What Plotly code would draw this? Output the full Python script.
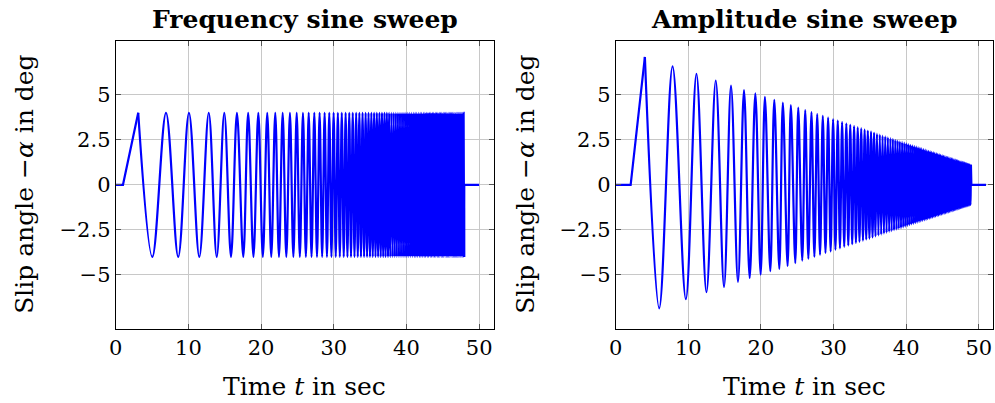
import plotly.graph_objects as go

# Frequency sine sweep: extremum times (s) (dense part estimated)
FREQ_T_EXT = [3.1, 5.04, 6.92, 8.6, 10.08, 11.5, 12.8, 13.9, 14.94, 15.86, 16.68, 17.55,
              18.22, 18.95, 19.62, 20.24, 20.85, 21.4, 21.95, 22.46, 22.97, 23.47, 23.97, 24.44,
              24.9, 25.33, 25.76, 26.16, 26.55, 26.94, 27.32, 27.69, 28.05, 28.4, 28.74, 29.06,
              29.38, 29.68, 29.98, 30.27, 30.56, 30.83, 31.10, 31.37, 31.63, 31.88, 32.13, 32.37,
              32.61, 32.85, 33.08, 33.30, 33.52, 33.74, 33.96, 34.17, 34.38, 34.58, 34.78, 34.98,
              35.17, 35.36, 35.55, 35.74, 35.92, 36.10, 36.28, 36.46, 36.63, 36.80, 36.97, 37.13,
              37.30, 37.46, 37.62, 37.78, 37.93, 38.09, 38.24, 38.39, 38.54, 38.68, 38.83, 38.97,
              39.11, 39.25, 39.39, 39.53, 39.66, 39.80, 39.93, 40.06, 40.19, 40.32, 40.45, 40.58,
              40.70, 40.82, 40.94, 41.07, 41.19, 41.30, 41.42, 41.54, 41.65, 41.77, 41.88, 41.99,
              42.10, 42.21, 42.32, 42.43, 42.54, 42.64, 42.75, 42.85, 42.96, 43.06, 43.16, 43.26,
              43.36, 43.46, 43.56, 43.66, 43.76, 43.86, 43.95, 44.05, 44.14, 44.24, 44.33, 44.42,
              44.51, 44.60, 44.69, 44.78, 44.87, 44.96, 45.05, 45.13, 45.22, 45.31, 45.39, 45.48,
              45.56, 45.64, 45.73, 45.81, 45.89, 45.97, 46.05, 46.13, 46.21, 46.29, 46.37, 46.45,
              46.53, 46.61, 46.68, 46.76, 46.84, 46.91, 46.99, 47.06, 47.14, 47.21, 47.28, 47.36,
              47.43, 47.50, 47.57, 47.65, 47.72, 47.79, 47.86, 47.93]
FREQ_AMP = 4.0
FREQ_START = 1.0     # sweep begins
FREQ_END = 47.95     # sweep stops
FREQ_TAIL = 50.0     # zero signal until here

# Amplitude sine sweep: extremum times (s) and magnitudes (deg)
AMP_T_EXT = [4.02, 5.99, 7.83, 9.66, 11.12, 12.5, 13.78, 14.92, 15.88, 16.84, 17.67, 18.45,
             19.23, 19.96, 20.55, 21.29, 21.84, 22.53, 23.02, 23.67, 24.12, 24.73, 25.14, 25.69,
             26.1, 26.53, 26.96, 27.36, 27.75, 28.14, 28.52, 28.89, 29.25, 29.6, 29.94, 30.26,
             30.58, 30.88, 31.18, 31.47, 31.76, 32.03, 32.3, 32.57, 32.83, 33.08, 33.33, 33.57,
             33.81, 34.05, 34.28, 34.5, 34.72, 34.94, 35.16, 35.37, 35.58, 35.78, 35.98, 36.18,
             36.37, 36.56, 36.75, 36.94, 37.12, 37.3, 37.48, 37.66, 37.83, 38.0, 38.17, 38.33,
             38.5, 38.66, 38.82, 38.98, 39.13, 39.29, 39.44, 39.59, 39.74, 39.88, 40.03, 40.17,
             40.31, 40.45, 40.59, 40.73, 40.86, 41.0, 41.13, 41.26, 41.39, 41.52, 41.65, 41.78,
             41.9, 42.02, 42.14, 42.27, 42.39, 42.5, 42.62, 42.74, 42.85, 42.97, 43.08, 43.19,
             43.3, 43.41, 43.52, 43.63, 43.74, 43.84, 43.95, 44.05, 44.16, 44.26, 44.36, 44.46,
             44.56, 44.66, 44.76, 44.86, 44.96, 45.06, 45.15, 45.25, 45.34, 45.44, 45.53, 45.62,
             45.71, 45.8, 45.89, 45.98, 46.07, 46.16, 46.25, 46.33, 46.42, 46.51, 46.59, 46.68,
             46.76, 46.84, 46.93, 47.01, 47.09, 47.17, 47.25, 47.33, 47.41, 47.49, 47.57, 47.65,
             47.73, 47.81, 47.88, 47.96, 48.04, 48.11, 48.19, 48.26, 48.34, 48.41, 48.48, 48.56,
             48.63, 48.7, 48.77, 48.85, 48.92]
AMP_EXT = [7.1, 6.85, 6.57, 6.35, 6.16, 5.96, 5.79, 5.67, 5.51, 5.39, 5.26, 5.17,
           5.08, 4.98, 4.89, 4.79, 4.72, 4.66, 4.57, 4.51, 4.42, 4.34, 4.29, 4.21,
           4.15, 4.10, 4.04, 3.99, 3.93, 3.88, 3.83, 3.78, 3.73, 3.69, 3.64, 3.60,
           3.56, 3.52, 3.48, 3.44, 3.40, 3.36, 3.33, 3.29, 3.26, 3.22, 3.19, 3.16,
           3.13, 3.09, 3.06, 3.03, 3.00, 2.98, 2.95, 2.92, 2.89, 2.86, 2.84, 2.81,
           2.79, 2.76, 2.73, 2.71, 2.69, 2.66, 2.64, 2.61, 2.59, 2.57, 2.55, 2.52,
           2.50, 2.48, 2.46, 2.44, 2.42, 2.40, 2.38, 2.36, 2.34, 2.32, 2.30, 2.28,
           2.26, 2.24, 2.22, 2.20, 2.19, 2.17, 2.15, 2.13, 2.12, 2.10, 2.08, 2.06,
           2.05, 2.03, 2.02, 2.00, 1.98, 1.97, 1.95, 1.94, 1.92, 1.91, 1.89, 1.88,
           1.86, 1.85, 1.83, 1.82, 1.80, 1.79, 1.77, 1.76, 1.75, 1.73, 1.72, 1.71,
           1.69, 1.68, 1.67, 1.65, 1.64, 1.63, 1.61, 1.60, 1.59, 1.58, 1.56, 1.55,
           1.54, 1.53, 1.52, 1.50, 1.49, 1.48, 1.47, 1.46, 1.45, 1.43, 1.42, 1.41,
           1.40, 1.39, 1.38, 1.37, 1.36, 1.35, 1.33, 1.32, 1.31, 1.30, 1.29, 1.28,
           1.27, 1.26, 1.25, 1.24, 1.23, 1.22, 1.21, 1.20, 1.19, 1.18, 1.17, 1.16,
           1.15, 1.14, 1.13, 1.12, 1.11]
AMP_START = 2.06
AMP_END = 48.98
AMP_TAIL = 51.0

X_TICKS = [0, 10, 20, 30, 40, 50]
Y_TICKS = [-5, -2.5, 0, 2.5, 5]
Y_TICKTEXT = ["\u22125", "\u22122.5", "0", "2.5", "5"]

BLUE = "#0000ff"
FONT = "DejaVu Serif"

# alternating signs: first extremum is a maximum
freq_y = [FREQ_AMP if i % 2 == 0 else -FREQ_AMP for i in range(len(FREQ_T_EXT))]
amp_y = [a if i % 2 == 0 else -a for i, a in enumerate(AMP_EXT)]

fig = go.Figure()

def add_sweep(t_ext, y_ext, t_start, t_end, t_tail, xa, ya):
    ln = dict(color=BLUE, width=2.2)
    # flat start + ramp into first maximum
    fig.add_trace(go.Scatter(x=[0, t_start, t_ext[0]], y=[0, 0, y_ext[0]], mode="lines",
                             line=ln, xaxis=xa, yaxis=ya, showlegend=False))
    # the sweep itself, smoothed between the extrema
    fig.add_trace(go.Scatter(x=t_ext, y=y_ext, mode="lines", line=dict(ln, shape="spline"),
                             xaxis=xa, yaxis=ya, showlegend=False))
    # stop and zero tail
    fig.add_trace(go.Scatter(x=[t_ext[-1], t_end, t_tail], y=[y_ext[-1], 0, 0], mode="lines",
                             line=ln, xaxis=xa, yaxis=ya, showlegend=False))

add_sweep(FREQ_T_EXT, freq_y, FREQ_START, FREQ_END, FREQ_TAIL, "x", "y")
add_sweep(AMP_T_EXT, amp_y, AMP_START, AMP_END, AMP_TAIL, "x2", "y2")

W, H = 995, 403
ax_common = dict(showline=True, linecolor="black", linewidth=1, mirror="ticks",
                 ticks="inside", ticklen=5, tickcolor="#555555", tickwidth=1,
                 showgrid=True, gridcolor="#c8c8c8", gridwidth=1, zeroline=False,
                 automargin=False,
                 tickfont=dict(family=FONT, size=21, color="black"))
xdom1 = [115.7 / W, 493.7 / W]
xdom2 = [615.7 / W, 993.3 / W]
ydom = [(H - 329) / H, (H - 40.7) / H]

fig.update_layout(
    width=W, height=H, margin=dict(l=0, r=0, t=0, b=0, autoexpand=False),
    paper_bgcolor="white", plot_bgcolor="white",
    xaxis=dict(ax_common, domain=xdom1, range=[0, 52], tickvals=X_TICKS, anchor="y"),
    yaxis=dict(ax_common, domain=ydom, range=[-8, 8], tickvals=Y_TICKS, ticktext=Y_TICKTEXT, anchor="x"),
    xaxis2=dict(ax_common, domain=xdom2, range=[0, 52], tickvals=X_TICKS, anchor="y2"),
    yaxis2=dict(ax_common, domain=ydom, range=[-8, 8], tickvals=Y_TICKS, ticktext=Y_TICKTEXT, anchor="x2"),
)

txt = dict(family=FONT, size=25, color="black")
titles = [("Frequency sine sweep", xdom1), ("Amplitude sine sweep", xdom2)]
for t, dom in titles:
    cx = (dom[0] + dom[1]) / 2
    fig.add_annotation(text="<b>" + t + "</b>", x=cx, y=1 - 19 / H, xref="paper", yref="paper",
                       xanchor="center", yanchor="middle", showarrow=False,
                       font=dict(family=FONT, size=25, color="black"))
    fig.add_annotation(text="Time <i>t</i> in sec", x=cx, y=1 - 386 / H, xref="paper", yref="paper",
                       xanchor="center", yanchor="middle", showarrow=False, font=txt)
for xc in [25 / W, 526 / W]:
    fig.add_annotation(text="Slip angle \u2212<i>\u03b1</i> in deg", x=xc, y=(ydom[0] + ydom[1]) / 2,
                       xref="paper", yref="paper", xanchor="center", yanchor="middle",
                       textangle=-90, showarrow=False, font=txt)

# page body has a default margin; drop it so the figure fills the window
fig.write_html("out.html", config={"displayModeBar": False},
               post_script="document.body.style.margin='0';")
